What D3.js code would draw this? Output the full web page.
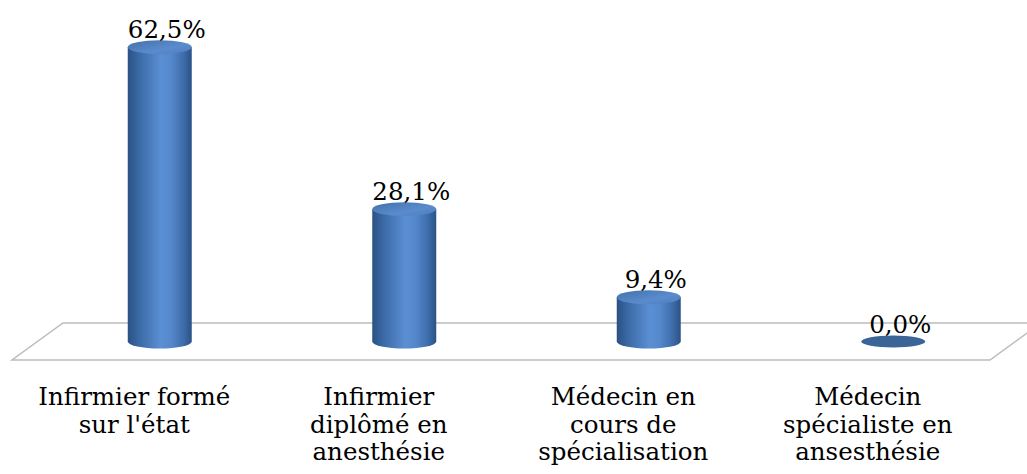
<!DOCTYPE html>
<html>
<head>
<meta charset="utf-8">
<script src="https://cdn.jsdelivr.net/npm/d3@7"></script>
<style>
  body { margin: 0; background: #fff; }
</style>
</head>
<body>
<div id="chart"></div>
<script>
(function(){
// data
var categories = ["Infirmier formé|sur l'état", "Infirmier|diplômé en|anesthésie",
                  "Médecin en|cours de|spécialisation", "Médecin|spécialiste en|ansesthésie"];
var values = [62.5, 28.1, 9.4, 0.0];
var valueLabels = ["62,5%", "28,1%", "9,4%", "0,0%"];

var width = 1027, height = 474;
var fontFam = "'DejaVu Serif', 'Liberation Serif', serif";
var svg = d3.select("#chart").append("svg")
  .attr("width", width)
  .attr("height", height);

// floor geometry (front edge + depth offset)
var front = {x0: 12, x1: 990, y: 360};
var depth = {dx: 51, dy: -37};

var x = d3.scaleBand().domain(d3.range(categories.length))
  .range([front.x0, front.x1]).padding(0);
var y = d3.scaleLinear().domain([0, 70])
  .range([front.y + depth.dy / 2, front.y + depth.dy / 2 - 70 * 4.71]);

var defs = svg.append("defs");
var bodyGrad = defs.append("linearGradient").attr("id", "body").attr("x1", 0).attr("x2", 1);
[["0%", "#2a5183"], ["18%", "#3b6aa6"], ["52%", "#5b8fd4"], ["68%", "#5487cb"], ["88%", "#3c6ba8"], ["100%", "#2b5285"]]
  .forEach(function(s){ bodyGrad.append("stop").attr("offset", s[0]).attr("stop-color", s[1]); });
var topGrad = defs.append("linearGradient").attr("id", "topg").attr("x1", 0).attr("x2", 1).attr("y1", 0).attr("y2", 1);
[["0%", "#4270ab"], ["60%", "#5a8bcc"], ["100%", "#4d7dbd"]]
  .forEach(function(s){ topGrad.append("stop").attr("offset", s[0]).attr("stop-color", s[1]); });

// floor
var floorPts = [[front.x0, front.y], [front.x1, front.y],
                [front.x1 + depth.dx, front.y + depth.dy], [front.x0 + depth.dx, front.y + depth.dy]];
svg.append("path")
  .attr("d", d3.line()(floorPts) + "Z")
  .attr("fill", "none")
  .attr("stroke", "#bcbcbc")
  .attr("stroke-width", 1.5);

var rx = 32, ry = 7;
var bw = x.bandwidth();

var bars = svg.append("g").selectAll("g")
  .data(values).enter().append("g")
  .attr("transform", function(d, i){
    return "translate(" + (x(i) + bw / 2 + depth.dx / 2) + ",0)";
  });

bars.each(function(d){
  var g = d3.select(this);
  var y0 = y(0), y1 = y(d);
  if (d > 0) {
    g.append("path")
      .attr("d", "M" + (-rx) + "," + y1 + " L" + (-rx) + "," + y0 +
                 " A" + rx + "," + ry + " 0 0 0 " + rx + "," + y0 +
                 " L" + rx + "," + y1 + " Z")
      .attr("fill", "url(#body)");
    g.append("ellipse")
      .attr("cx", 0).attr("cy", y1).attr("rx", rx).attr("ry", ry)
      .attr("fill", "url(#topg)");
  } else {
    g.append("ellipse")
      .attr("cx", 0).attr("cy", y1).attr("rx", rx).attr("ry", ry - 1)
      .attr("fill", "#3b6597");
  }
});

// value labels
bars.append("text")
  .attr("x", 7)
  .attr("y", function(d){ return y(d) - 9; })
  .attr("text-anchor", "middle")
  .attr("font-family", fontFam)
  .attr("font-size", 24.5)
  .text(function(d, i){ return valueLabels[i]; });

// category labels, one text per line
var lineH = 27.5;
var cat = svg.append("g").selectAll("g")
  .data(categories).enter().append("g")
  .attr("transform", function(d, i){ return "translate(" + (x(i) + bw / 2) + ",405)"; });

cat.selectAll("text")
  .data(function(d){ return d.split("|"); })
  .enter().append("text")
  .attr("y", function(d, k){ return k * lineH; })
  .attr("text-anchor", "middle")
  .attr("font-family", fontFam)
  .attr("font-size", 24.5)
  .text(function(d){ return d; });
})();
</script>
</body>
</html>
